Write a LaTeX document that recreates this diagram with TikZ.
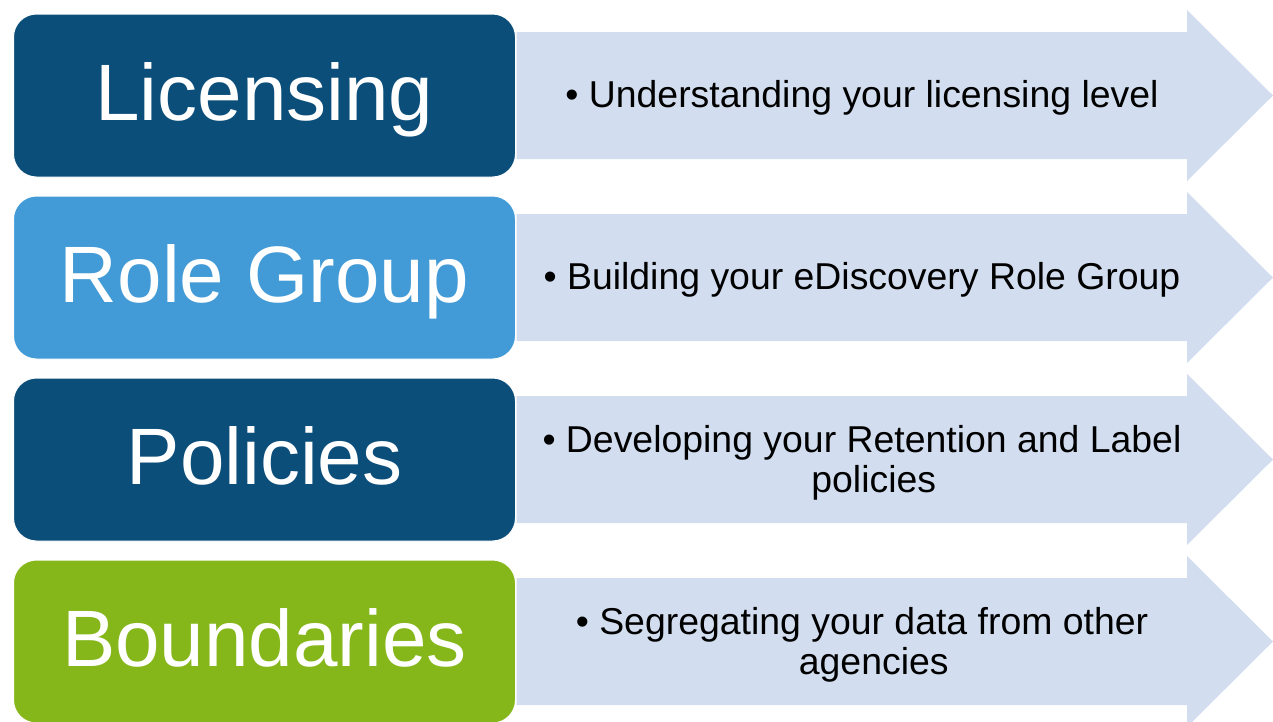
\documentclass[tikz,border=0pt]{standalone}
\usepackage{fontspec}
\setmainfont{Liberation Sans}
\usetikzlibrary{positioning}
\definecolor{navyblock}{RGB}{12,78,122}
\definecolor{skyblock}{RGB}{66,155,214}
\definecolor{limeblock}{RGB}{134,183,26}
\definecolor{bandfill}{RGB}{210,222,239}

\begin{document}
\begin{tikzpicture}[x=1pt, y=-1pt, node distance={18pt},
    titlebox/.style={draw=white, line width=1pt, rounded corners=23pt,
      minimum width=502pt, minimum height=163pt, text=white,
      font=\fontsize{80}{96}\selectfont, text height=57pt, text depth=8pt},
    bandtext/.style={font=\fontsize{37.4}{40}\selectfont, align=center, anchor=base}]
    \useasboundingbox (0,0) rectangle (1273,721);
    \node[titlebox, fill=navyblock] (t1) at (264.5,95.5) {Licensing};
    \node[titlebox, fill=skyblock] (t2) [below=of t1] {Role Group};
    \node[titlebox, fill=navyblock] (t3) [below=of t2] {Policies};
    \node[titlebox, fill=limeblock] (t4) [below=of t3] {Boundaries};
\foreach \n in {1,...,4} {
    \begin{scope}[shift={(t\n.center)}]
      \fill[bandfill] (252,-63.5) -- (922.5,-63.5) -- (922.5,-85.5) -- (1008.5,0)
        -- (922.5,85.5) -- (922.5,63.5) -- (252,63.5) -- cycle;
    \end{scope}
}
    % two-line texts: base is the last line
    \node[bandtext] (d1) at ([xshift=597.5pt, yshift=-11.5pt]t1.center)
      {\textbullet\ Understanding your licensing level};
    \node[bandtext] (d2) at ([xshift=597.5pt, yshift=-11.5pt]t2.center)
      {\textbullet\ Building your eDiscovery Role Group};
    \node[bandtext] (d3) at ([xshift=597.5pt, yshift=-32.5pt]t3.center)
      {\textbullet\ Developing your Retention and Label\\\phantom{\textbullet\ }policies};
    \node[bandtext] (d4) at ([xshift=597.5pt, yshift=-32.5pt]t4.center)
      {\textbullet\ Segregating your data from other\\\phantom{\textbullet\ }agencies};
\end{tikzpicture}
\end{document}
